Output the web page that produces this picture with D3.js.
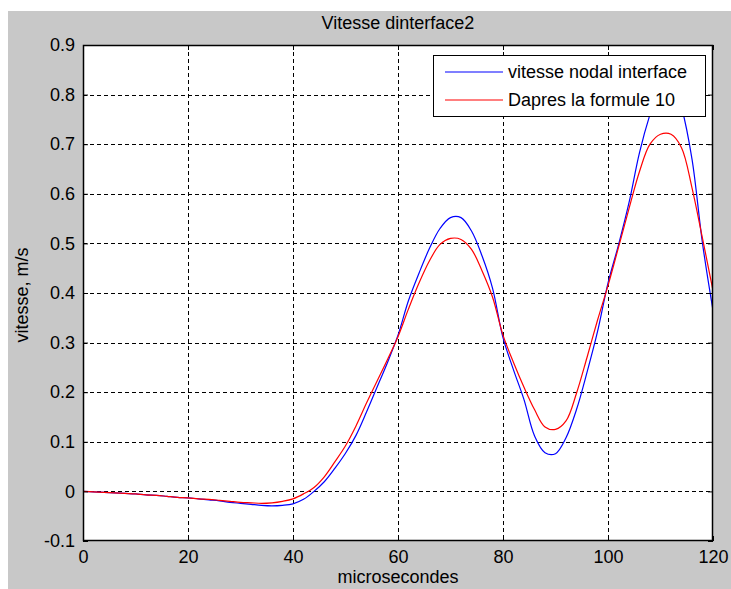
<!DOCTYPE html>
<html><head><meta charset="utf-8">
<script src="https://cdn.jsdelivr.net/npm/d3@7"></script>
<style>body{margin:0;background:#fff;} text{font-family:"Liberation Sans",Arial,sans-serif;}</style>
</head><body>
<svg id="c" width="731" height="589"></svg>
<script>
const title = "Vitesse dinterface2";
const xLabel = "microsecondes";
const yLabel = "vitesse, m/s";
const xTicks = [0, 20, 40, 60, 80, 100, 120];
const yTicks = [-0.1, 0, 0.1, 0.2, 0.3, 0.4, 0.5, 0.6, 0.7, 0.8, 0.9];
const yTickLabels = ["-0.1", "0", "0.1", "0.2", "0.3", "0.4", "0.5", "0.6", "0.7", "0.8", "0.9"];
const seriesNames = ["vitesse nodal interface", "Dapres la formule 10"];
const seriesColors = ["#0000ff", "#ff0000"];
const time = [0,2,4,6,8,10,12,14,16,18,20,22,24,26,28,30,32,34,36,38,40,42,44,46,48,50,52,54,56,58,60,62,64,66,68,70,72,74,76,78,80,82,84,86,88,90,92,94,96,98,100,102,104,106,108,110,112,114,116,118,120];
const blue = [0,-0.001,-0.002,-0.003,-0.004,-0.005,-0.007,-0.008,-0.010,-0.012,-0.013,-0.015,-0.017,-0.019,-0.022,-0.024,-0.026,-0.028,-0.029,-0.028,-0.025,-0.016,0.000,0.020,0.047,0.077,0.113,0.160,0.210,0.260,0.315,0.385,0.440,0.490,0.530,0.552,0.552,0.525,0.475,0.410,0.310,0.245,0.185,0.112,0.078,0.076,0.108,0.165,0.240,0.322,0.420,0.497,0.582,0.683,0.760,0.820,0.838,0.775,0.670,0.500,0.365];
const red = [0,-0.001,-0.002,-0.003,-0.004,-0.005,-0.007,-0.008,-0.010,-0.012,-0.013,-0.015,-0.016,-0.018,-0.020,-0.022,-0.023,-0.024,-0.023,-0.020,-0.015,-0.005,0.008,0.030,0.060,0.092,0.132,0.178,0.222,0.266,0.312,0.368,0.420,0.465,0.498,0.510,0.508,0.488,0.445,0.392,0.315,0.260,0.210,0.165,0.130,0.125,0.142,0.198,0.270,0.345,0.415,0.492,0.570,0.645,0.700,0.720,0.720,0.693,0.612,0.510,0.405];

const svg = d3.select("#c");
const W = 731, H = 589;
const m = {left: 83, right: 713, top: 45, bottom: 541};
const FS = "18px";
svg.append("rect").attr("x", 8).attr("y", 11).attr("width", W - 8).attr("height", H - 11).attr("fill", "#c8c8c8");

const x = d3.scaleLinear().domain([0, 120]).range([m.left, m.right]);
const y = d3.scaleLinear().domain([-0.1, 0.9]).range([m.bottom, m.top]);

svg.append("rect").attr("x", m.left).attr("y", m.top).attr("width", m.right - m.left).attr("height", m.bottom - m.top).attr("fill", "#fff");

// grid
const grid = svg.append("g").attr("stroke", "#000").attr("stroke-width", 1).attr("stroke-dasharray", "4,3").attr("shape-rendering", "crispEdges");
xTicks.slice(1, -1).forEach(t => grid.append("line").attr("x1", Math.round(x(t)) + 0.5).attr("x2", Math.round(x(t)) + 0.5).attr("y1", m.top).attr("y2", m.bottom));
yTicks.slice(1, -1).forEach(t => grid.append("line").attr("y1", Math.round(y(t)) + 0.5).attr("y2", Math.round(y(t)) + 0.5).attr("x1", m.left).attr("x2", m.right));

// lines
const line = d3.line().x((d, i) => x(time[i])).y(d => y(d)).curve(d3.curveCatmullRom);
svg.append("clipPath").attr("id", "clp").append("rect").attr("x", m.left).attr("y", m.top).attr("width", m.right - m.left).attr("height", m.bottom - m.top);
[blue, red].forEach((s, k) => {
  svg.append("path").attr("d", line(s)).attr("fill", "none").attr("stroke", seriesColors[k]).attr("stroke-width", 1.2).attr("clip-path", "url(#clp)");
});

// axes with inward ticks
const tl = 5;
const axB = d3.axisBottom(x).tickValues(xTicks).tickSizeInner(-tl).tickSizeOuter(0).tickPadding(9).tickFormat(d3.format("d"));
const axT = d3.axisTop(x).tickValues(xTicks).tickSizeInner(-tl).tickSizeOuter(0).tickFormat("");
const axL = d3.axisLeft(y).tickValues(yTicks).tickSizeInner(-tl).tickSizeOuter(0).tickPadding(8).tickFormat((d, i) => yTickLabels[i]);
const axR = d3.axisRight(y).tickValues(yTicks).tickSizeInner(-tl).tickSizeOuter(0).tickFormat("");
function style(g) {
  g.selectAll("path").remove();
  g.selectAll("line").attr("stroke", "#000");
  g.selectAll("text").attr("fill", "#000").style("font-size", FS).style("font-family", "'Liberation Sans', Arial, sans-serif");
}
svg.append("g").attr("transform", `translate(0,${m.bottom})`).call(axB).call(style);
svg.append("g").attr("transform", `translate(0,${m.top})`).call(axT).call(style);
svg.append("g").attr("transform", `translate(${m.left},0)`).call(axL).call(style);
svg.append("g").attr("transform", `translate(${m.right},0)`).call(axR).call(style);

svg.append("rect").attr("x", m.left + 0.5).attr("y", m.top + 0.5).attr("width", m.right - m.left - 1).attr("height", m.bottom - m.top - 1).attr("fill", "none").attr("stroke", "#000").attr("stroke-width", 1.5);

// title & labels
svg.append("text").attr("x", (m.left + m.right) / 2).attr("y", 29).attr("text-anchor", "middle").style("font-size", FS).text(title);
svg.append("text").attr("x", (m.left + m.right) / 2).attr("y", 583).attr("text-anchor", "middle").style("font-size", FS).text(xLabel);
svg.append("text").attr("transform", `translate(28,${(m.top + m.bottom) / 2 + 2}) rotate(-90)`).attr("text-anchor", "middle").style("font-size", FS).text(yLabel);

// legend
const lg = svg.append("g");
lg.append("rect").attr("x", 433.5).attr("y", 55.5).attr("width", 272).attr("height", 61).attr("fill", "#fff").attr("stroke", "#000").attr("stroke-width", 1);
seriesNames.forEach((n, k) => {
  const yy = 72 + k * 28;
  lg.append("line").attr("x1", 445).attr("x2", 503).attr("y1", yy).attr("y2", yy).attr("stroke", seriesColors[k]).attr("stroke-width", 1.2);
  lg.append("text").attr("x", 508).attr("y", yy + 6).style("font-size", FS).text(n);
});
</script>
</body></html>
